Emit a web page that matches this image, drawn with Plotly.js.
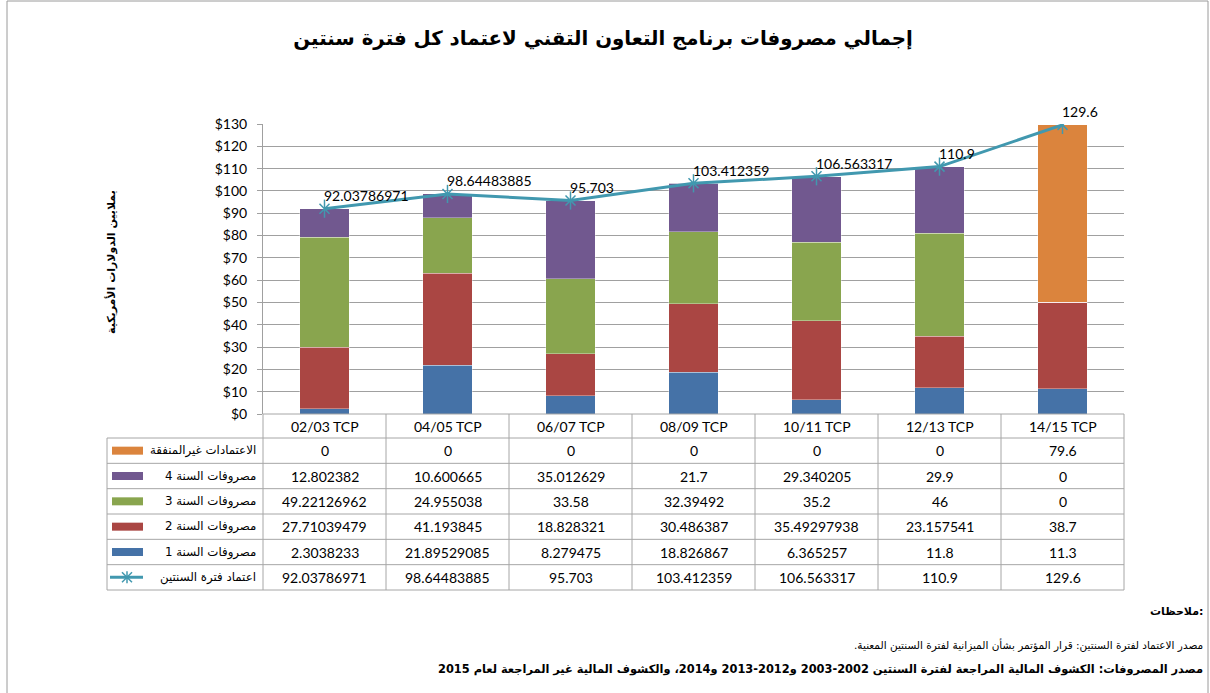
<!DOCTYPE html>
<html>
<head>
<meta charset="utf-8">
<script src="https://cdn.plot.ly/plotly-3.0.1.min.js"></script>
<style>html,body{margin:0;padding:0;background:#fff;}</style>
</head>
<body>
<div id="chart" style="width:1210px;height:693px;"></div>
<script>
// ---- data ----
const categories = ["02/03 TCP","04/05 TCP","06/07 TCP","08/09 TCP","10/11 TCP","12/13 TCP","14/15 TCP"];
const year1 = [2.3038233, 21.89529085, 8.279475, 18.826867, 6.365257, 11.8, 11.3];
const year2 = [27.71039479, 41.193845, 18.828321, 30.486387, 35.49297938, 23.157541, 38.7];
const year3 = [49.22126962, 24.955038, 33.58, 32.39492, 35.2, 46, 0];
const year4 = [12.802382, 10.600665, 35.012629, 21.7, 29.340205, 29.9, 0];
const unspent = [0, 0, 0, 0, 0, 0, 79.6];
const appropriation = [92.03786971, 98.64483885, 95.703, 103.412359, 106.563317, 110.9, 129.6];

const nameYear1 = "مصروفات السنة 1";
const nameYear2 = "مصروفات السنة 2";
const nameYear3 = "مصروفات السنة 3";
const nameYear4 = "مصروفات السنة 4";
const nameUnspent = "الاعتمادات غيرالمنفقة";
const nameApprop = "اعتماد فترة السنتين";
const titleText = "إجمالي مصروفات برنامج التعاون التقني لاعتماد كل فترة سنتين";
const yTitleText = "بملايين الدولارات الأمريكية";
const note0 = "ملاحظات:";
const note1 = "مصدر الاعتماد لفترة السنتين: قرار المؤتمر بشأن الميزانية لفترة السنتين المعنية.";
const note2 = "مصدر المصروفات: الكشوف المالية المراجعة لفترة السنتين 2002-2003 و2012-2013 و2014، والكشوف المالية غير المراجعة لعام 2015";

// ---- styles ----
const C = {y1:"#4572A7", y2:"#AA4643", y3:"#89A54E", y4:"#71588F", un:"#DB843D", line:"#4198AF"};
const L = 263, R = 1124, T = 124, B = 414;
const px = x => (x - L) / (R - L);
const py = y => (B - y) / (B - T);
const arab = "DejaVu Sans";
const latin = "Lato, 'Open Sans', sans-serif";
const RLM = "\u200F";

const barLine = {width: 0.6, color: "rgba(255,255,255,0.55)"};
function bar(vals, name, color) {
  return {type: "bar", x: categories, y: vals, name: name,
          marker: {color: color, line: barLine}, hoverinfo: "y+name"};
}
const traces = [
  bar(year1, nameYear1, C.y1),
  bar(year2, nameYear2, C.y2),
  bar(year3, nameYear3, C.y3),
  bar(year4, nameYear4, C.y4),
  bar(unspent, nameUnspent, C.un),
  {type: "scatter", mode: "lines+markers", x: categories, y: appropriation, name: nameApprop,
   line: {color: C.line, width: 3},
   marker: {symbol: "x-thin-open", size: 10, color: C.line, line: {width: 1.5, color: C.line}}},
  {type: "scatter", mode: "markers", x: categories, y: appropriation, showlegend: false, hoverinfo: "skip",
   marker: {symbol: "line-ns-open", size: 13, color: C.line, line: {width: 1.5, color: C.line}}}
];

// ---- table geometry ----
const rowTops = [414, 438, 463.33, 488.67, 514, 539.33, 564.67, 590];
const tableRows = [
  {name: nameUnspent, vals: unspent, color: C.un},
  {name: nameYear4, vals: year4, color: C.y4},
  {name: nameYear3, vals: year3, color: C.y3},
  {name: nameYear2, vals: year2, color: C.y2},
  {name: nameYear1, vals: year1, color: C.y1},
  {name: nameApprop, vals: appropriation, color: C.line, isLine: true}
];
const gridC = "#A6A6A6";
const shapes = [];
const annotations = [];

// outer chart border
shapes.push({type: "rect", xref: "paper", yref: "paper", x0: px(7), x1: px(1208), y0: py(1), y1: py(700),
             line: {color: "#9A9A9A", width: 1}, fillcolor: "rgba(0,0,0,0)", layer: "below"});
// header top line
shapes.push({type: "line", xref: "paper", yref: "paper", x0: 0, x1: 1, y0: py(414), y1: py(414), line: {color: gridC, width: 1}});
// horizontal row lines
for (let i = 1; i < rowTops.length; i++) {
  shapes.push({type: "line", xref: "paper", yref: "paper", x0: px(107), x1: 1, y0: py(rowTops[i]), y1: py(rowTops[i]),
               line: {color: gridC, width: 1}});
}
// vertical lines
for (let k = 0; k <= categories.length; k++) {
  shapes.push({type: "line", xref: "paper", yref: "paper", x0: k / categories.length, x1: k / categories.length,
               y0: py(414), y1: py(590), line: {color: gridC, width: 1}});
}
shapes.push({type: "line", xref: "paper", yref: "paper", x0: px(107), x1: px(107), y0: py(438), y1: py(590),
             line: {color: gridC, width: 1}});

// header labels
categories.forEach((c, i) => {
  annotations.push({xref: "x", yref: "paper", x: c, y: py((rowTops[0] + rowTops[1]) / 2), text: c, showarrow: false,
                    xanchor: "center", yanchor: "middle", font: {family: latin, size: 14, color: "#000"}});
});
// rows
tableRows.forEach((r, ri) => {
  const yc = (rowTops[ri + 1] + rowTops[ri + 2]) / 2;
  r.vals.forEach((v, i) => {
    annotations.push({xref: "x", yref: "paper", x: categories[i], y: py(yc), text: String(v), showarrow: false,
                      xanchor: "center", yanchor: "middle", font: {family: latin, size: 14, color: "#000"}});
  });
  annotations.push({xref: "paper", yref: "paper", x: px(258), y: py(yc), text: r.name, showarrow: false,
                    xanchor: "right", yanchor: "middle", font: {family: arab, size: 11.8, color: "#000"}});
  if (!r.isLine) {
    shapes.push({type: "rect", xref: "paper", yref: "paper", x0: px(112), x1: px(143), y0: py(yc - 4), y1: py(yc + 4),
                 line: {width: 0}, fillcolor: r.color});
  } else {
    shapes.push({type: "line", xref: "paper", yref: "paper", x0: px(110), x1: px(143), y0: py(yc), y1: py(yc),
                 line: {color: r.color, width: 3}});
    const cx = 127;
    [[cx - 5, yc - 5, cx + 5, yc + 5], [cx - 5, yc + 5, cx + 5, yc - 5], [cx, yc - 6, cx, yc + 6]].forEach(s => {
      shapes.push({type: "line", xref: "paper", yref: "paper", x0: px(s[0]), x1: px(s[2]), y0: py(s[1]), y1: py(s[3]),
                   line: {color: r.color, width: 1.5}});
    });
  }
});

// line data labels
appropriation.forEach((v, i) => {
  annotations.push({xref: "x", yref: "y", x: categories[i], y: v, text: String(v), showarrow: false,
                    xanchor: "left", yanchor: "middle", xshift: -3, yshift: 13,
                    font: {family: latin, size: 14, color: "#000"}});
});

// y title
annotations.push({xref: "paper", yref: "paper", x: px(111), y: py(262), text: "<b>" + yTitleText + "</b>", showarrow: false,
                  textangle: -90, xanchor: "center", yanchor: "middle", font: {family: arab, size: 11, color: "#000"}});
// notes
annotations.push({xref: "paper", yref: "paper", x: px(1205), y: py(611), text: "<b>" + note0 + "</b>", showarrow: false,
                  xanchor: "right", yanchor: "middle", font: {family: arab, size: 11, color: "#000"}});
annotations.push({xref: "paper", yref: "paper", x: px(1205), y: py(645), text: RLM + note1 + RLM, showarrow: false,
                  xanchor: "right", yanchor: "middle", font: {family: arab, size: 10.5, color: "#000"}});
annotations.push({xref: "paper", yref: "paper", x: px(1205), y: py(669), text: "<b>" + note2 + "</b>", showarrow: false,
                  xanchor: "right", yanchor: "middle", font: {family: arab, size: 11.4, color: "#000"}});

const layout = {
  width: 1210, height: 693,
  margin: {l: L, r: 1210 - R, t: T, b: 693 - B, pad: 0},
  paper_bgcolor: "#fff", plot_bgcolor: "#fff",
  barmode: "stack", bargap: 0.595,
  showlegend: false,
  title: {text: "<b>" + titleText + "</b>", x: 603 / 1210, xanchor: "center", xref: "container",
          y: 1 - 38 / 693, yanchor: "middle", yref: "container",
          font: {family: arab, size: 19.8, color: "#000"}},
  xaxis: {type: "category", range: [-0.5, 6.5], showticklabels: false, showgrid: false, zeroline: false,
          showline: false, ticks: "", fixedrange: true},
  yaxis: {range: [0, 130], dtick: 10, tick0: 0, tickprefix: "$", showgrid: true, gridcolor: "#A0A0A0", gridwidth: 1,
          zeroline: false, showline: true, linecolor: "#A0A0A0", linewidth: 1, ticks: "outside", ticklen: 5,
          tickcolor: "#A0A0A0", ticklabelstandoff: 7, tickfont: {family: latin, size: 14, color: "#000"}, fixedrange: true},
  shapes: shapes,
  annotations: annotations
};
Plotly.newPlot("chart", traces, layout, {displayModeBar: false, staticPlot: true});
</script>
</body>
</html>
